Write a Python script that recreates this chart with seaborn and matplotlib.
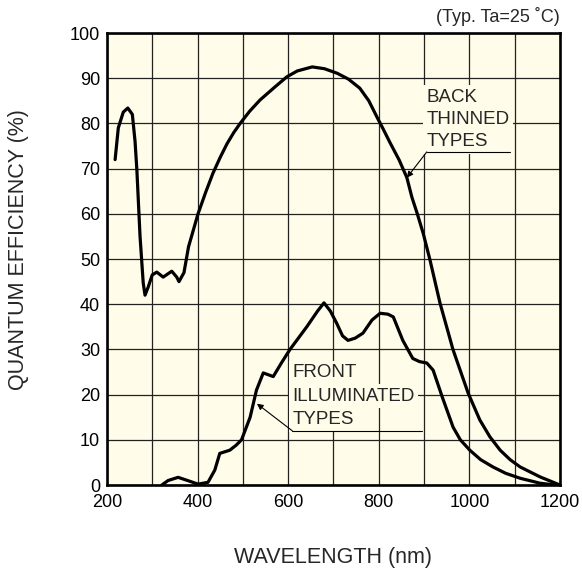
import matplotlib
matplotlib.use("Agg")
import matplotlib.pyplot as plt
import seaborn as sns

# Back thinned curve (wavelength nm, QE %)
back_wl = [218, 225, 236, 246, 256, 262, 266, 273, 280, 284, 291, 300, 310, 324,
           343, 354, 359, 370, 380, 401, 418, 434, 450, 465, 480, 494, 515, 538,
           570, 597, 620, 653, 680, 708, 733, 758, 778, 796, 810, 825, 845, 862,
           873, 885, 898, 913, 935, 964, 997, 1023, 1045, 1068, 1090, 1112, 1156, 1200]
back_qe = [72, 79, 82.5, 83.4, 82, 76, 69.7, 55, 44.7, 42, 43.8, 46.5, 47.1, 46,
           47.3, 46, 45, 47, 52.7, 60, 64.8, 69, 72.5, 75.5, 78, 80, 82.7, 85.2,
           88, 90.3, 91.6, 92.5, 92.1, 91.1, 89.8, 87.8, 85, 81.4, 78.7, 75.7, 71.9, 68,
           63.7, 60, 55.7, 49.8, 40.3, 29.9, 20.4, 14.4, 10.7, 7.7, 5.6, 4, 1.8, 0]

# Front illuminated curve
front_wl = [321, 335, 357, 378, 401, 423, 438, 449, 471, 485, 497, 516, 530, 545,
            567, 585, 604, 641, 665, 679, 693, 707, 720, 732, 748, 765, 785, 803,
            820, 832, 853, 875, 890, 906, 920, 940, 964, 980, 1001, 1025, 1052,
            1080, 1112, 1156, 1190]
front_qe = [0, 1.0, 1.7, 1.0, 0.2, 0.6, 3.3, 7, 7.7, 8.8, 10, 15, 21, 24.8,
            24, 27, 30, 35, 38.5, 40.3, 38.5, 35.8, 33, 32, 32.5, 33.6, 36.5, 38,
            37.8, 37.2, 32, 28, 27.3, 27, 25.4, 19.5, 12.8, 10, 7.7, 5.6, 4,
            2.6, 1.5, 0.4, 0]

x_ticks = [200, 400, 600, 800, 1000, 1200]
y_ticks = [0, 10, 20, 30, 40, 50, 60, 70, 80, 90, 100]

back_label = ["BACK", "THINNED", "TYPES"]
front_label = ["FRONT", "ILLUMINATED", "TYPES"]

bg = "#FFFCE9"

sns.set_theme(style="ticks")
plt.rcParams['font.family'] = ['Liberation Sans', 'DejaVu Sans']

fig = plt.figure(figsize=(5.82, 5.74), dpi=100)
ax = fig.add_axes([0.1838, 0.155, 0.7784, 0.7875])
ax.set_facecolor(bg)

sns.lineplot(x=back_wl, y=back_qe, ax=ax, color="black", lw=2.3, sort=False,
             estimator=None, zorder=3)
sns.lineplot(x=front_wl, y=front_qe, ax=ax, color="black", lw=2.3, sort=False,
             estimator=None, zorder=3)

ax.set_xlim(200, 1200)
ax.set_ylim(0, 100)
ax.set_xticks(range(200, 1201, 100))
ax.set_xticklabels([str(t) if t in x_ticks else "" for t in range(200, 1201, 100)])
ax.set_yticks(y_ticks)
ax.set_yticklabels([str(t) for t in y_ticks])
ax.tick_params(length=0, labelsize=13, colors="black", pad=5)
ax.tick_params(axis="x", pad=6.5)
ax.grid(True, color="#222222", lw=0.9)
ax.set_axisbelow(True)
for s in ax.spines.values():
    s.set_linewidth(1.9)
    s.set_color("black")

ax.set_xlabel("WAVELENGTH (nm)", fontsize=15.5)
ax.set_ylabel("QUANTUM EFFICIENCY (%)", fontsize=15.5)
ax.xaxis.set_label_coords(0.5, -0.137)
ax.yaxis.set_label_coords(-0.172, 0.52)

# annotation labels
def block(lines, x0, ys, line_y, x1, tip):
    for txt, yy in zip(lines, ys):
        ax.text(x0, yy, txt, fontsize=13.5, ha="left", va="center", zorder=2.5,
                bbox=dict(facecolor=bg, edgecolor="none", pad=2.5))
    ax.plot([x0, x1], [line_y, line_y], color="black", lw=0.8, zorder=2.6)
    ax.annotate("", xy=tip, xytext=(x0, line_y),
                arrowprops=dict(arrowstyle="-|>", lw=0.8, color="black",
                                mutation_scale=9, shrinkA=0, shrinkB=0),
                zorder=2.6)

block(back_label, 906, [85.8, 80.9, 75.9], 73.7, 1090, (862, 68))
block(front_label, 609, [24.8, 19.6, 14.5], 12.0, 896, (531, 18))

ax.text(1.0, 1.015, "(Typ. Ta=25 \u02daC)", transform=ax.transAxes, ha="right",
        va="bottom", fontsize=13)

fig.savefig("out.png", dpi=100, facecolor="white")
